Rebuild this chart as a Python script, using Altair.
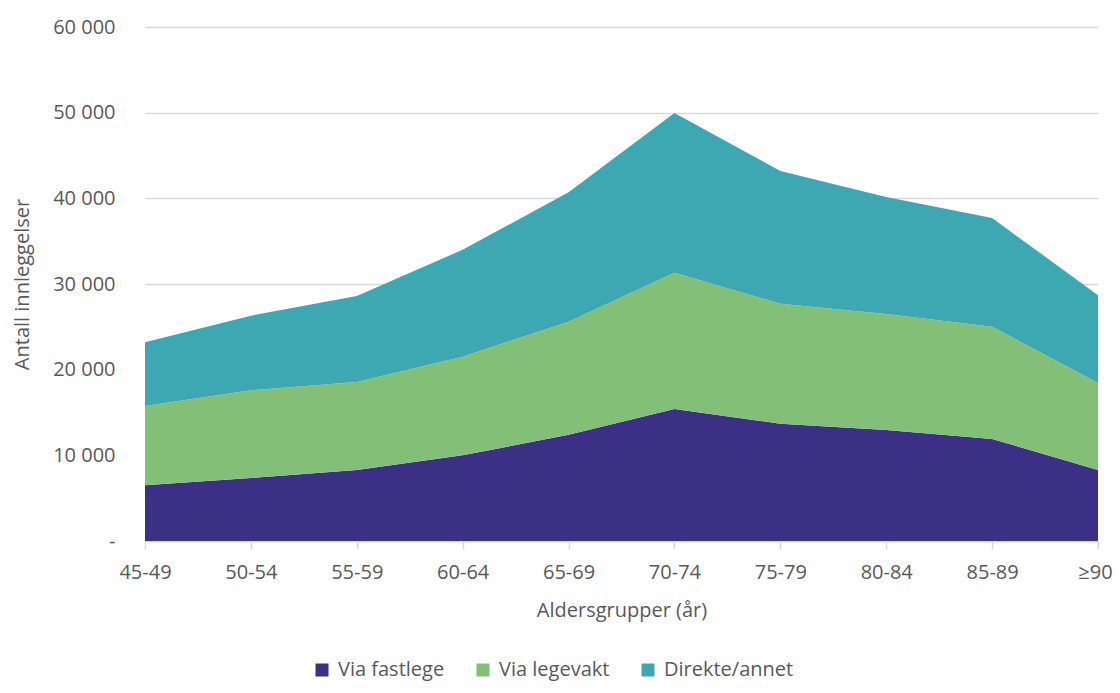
import altair as alt
import pandas as pd

groups = ["45-49", "50-54", "55-59", "60-64", "65-69", "70-74", "75-79", "80-84", "85-89", "≥90"]
series = ["Via fastlege", "Via legevakt", "Direkte/annet"]
colors = ["#3c2f86", "#83c077", "#3ea8b2"]

fastlege = [6500, 7350, 8300, 10000, 12400, 15400, 13700, 12950, 11900, 8300]
legevakt = [9250, 10250, 10250, 11500, 13200, 15900, 14000, 13550, 13100, 10150]
direkte = [7450, 8700, 10050, 12500, 15100, 18650, 15500, 13650, 12700, 10250]

rows = []
for i, g in enumerate(groups):
    for j, (s, vals) in enumerate(zip(series, [fastlege, legevakt, direkte])):
        rows.append({"group": g, "series": s, "value": vals[i], "ord": j})
df = pd.DataFrame(rows)

FONT = "Open Sans"
TXT = "#595959"

chart = alt.Chart(df).mark_area(opacity=1).encode(
    x=alt.X("group:O", sort=groups, scale=alt.Scale(padding=0),
            axis=alt.Axis(title="Aldersgrupper (år)", labelAngle=0, labelFontSize=20,
                          titleFontSize=20, labelColor=TXT, titleColor=TXT,
                          titleFontWeight="normal",
                          labelFont=FONT, titleFont=FONT, tickSize=8,
                          labelOffset=alt.ExprRef("datum.value == '≥90' ? -3 : 0"),
                          tickColor="#d9d9d9", domainColor="#d9d9d9", tickWidth=1.5,
                          domainWidth=1.5, labelPadding=13, titlePadding=18, grid=False)),
    y=alt.Y("value:Q", stack="zero", scale=alt.Scale(domain=[0, 60000]),
            axis=alt.Axis(title="Antall innleggelser", values=[0, 10000, 20000, 30000, 40000, 50000, 60000],
                          labelExpr="datum.value == 0 ? '-' : replace(format(datum.value, ','), ',', ' ')",
                          labelFontSize=20, titleFontSize=20, labelColor=TXT, titleColor=TXT,
                          titleFontWeight="normal",
                          labelFont=FONT, titleFont=FONT, ticks=False, domain=False,
                          labelPadding=30, titlePadding=20, gridColor="#d9d9d9", gridWidth=1.5)),
    color=alt.Color("series:N", sort=series,
                    scale=alt.Scale(domain=series, range=colors),
                    legend=alt.Legend(title=None, orient="none", direction="horizontal",
                                      legendX=167, legendY=633, symbolType="square",
                                      symbolSize=169, symbolStrokeWidth=0, labelFontSize=20,
                                      labelFont=FONT, labelColor=TXT, columnPadding=28,
                                      symbolOffset=0, labelOffset=6)),
    order=alt.Order("ord:Q", sort="ascending"),
).properties(
    width=953, height=514,
    padding={"left": 137, "top": 19, "right": 14, "bottom": 144},
    autosize=alt.AutoSizeParams(type="none"),
).configure(background="white").configure_view(stroke=None)

chart.save("out.html", embed_options={"renderer": "svg", "actions": False})
